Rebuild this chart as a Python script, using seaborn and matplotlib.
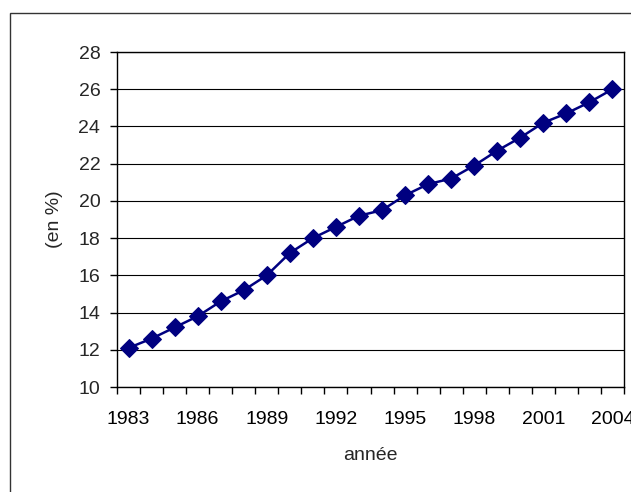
import matplotlib
matplotlib.use("Agg")
import matplotlib.pyplot as plt
import seaborn as sns
import pandas as pd
from matplotlib.patches import Rectangle
from matplotlib.ticker import MultipleLocator, FixedLocator

years = list(range(1983, 2005))
values = [12.1, 12.6, 13.2, 13.8, 14.6, 15.2, 16.0, 17.2, 18.0, 18.6, 19.2,
          19.5, 20.3, 20.9, 21.2, 21.9, 22.7, 23.4, 24.2, 24.7, 25.3, 26.0]
xtick_years = [1983, 1986, 1989, 1992, 1995, 1998, 2001, 2004]
x_label = "année"
y_label = "(en %)"

sns.set_style("white")
plt.rcParams['font.family'] = ['Liberation Sans', 'DejaVu Sans']

df = pd.DataFrame({"year": years, "value": values})

fig = plt.figure(figsize=(6.31, 4.92), dpi=100)
fig.patch.set_facecolor("white")
fig.patches.append(Rectangle((10/631, -0.2), 2.0, 0.2 + (1 - 13/492),
                             transform=fig.transFigure, fill=False,
                             edgecolor="#333333", linewidth=1.0))

L, R, T, B = 117, 624, 52, 387
ax = fig.add_axes([L/631, 1 - B/492, (R - L)/631, (B - T)/492])
sns.lineplot(data=df, x="year", y="value", ax=ax, color="#000080",
             linewidth=1.8, marker="D", markersize=9,
             markeredgecolor="#000080", markerfacecolor="#000080")

fs = 14
ax.set_xlim(1982.5, 2004.5)
ax.set_ylim(10, 28)
ax.yaxis.set_major_locator(MultipleLocator(2))
ax.set_xticks(xtick_years)
ax.set_xticklabels([str(y) for y in xtick_years])
ax.xaxis.set_minor_locator(FixedLocator([y + 0.5 for y in range(1982, 2005)]))
ax.tick_params(axis="x", which="major", length=0, pad=17, labelsize=fs, colors="black")
ax.tick_params(axis="x", which="minor", length=5, width=1, color="black", direction="out", bottom=True)
ax.tick_params(axis="y", which="major", length=5, width=1, color="black", direction="out",
               left=True, labelsize=fs, pad=7)
ax.grid(axis="y", color="black", linewidth=0.8)
ax.set_axisbelow(True)
for s in ax.spines.values():
    s.set_visible(True)
    s.set_color("black")
    s.set_linewidth(1.0)
ax.set_xlabel(x_label, fontsize=fs, va="center", ha="center")
ax.set_ylabel(y_label, fontsize=fs, va="center", ha="center")
ax.xaxis.set_label_coords(0.5, (B - 456) / (B - T))
ax.yaxis.set_label_coords((55 - L) / (R - L), 0.5)

fig.savefig("out.png", dpi=100)
